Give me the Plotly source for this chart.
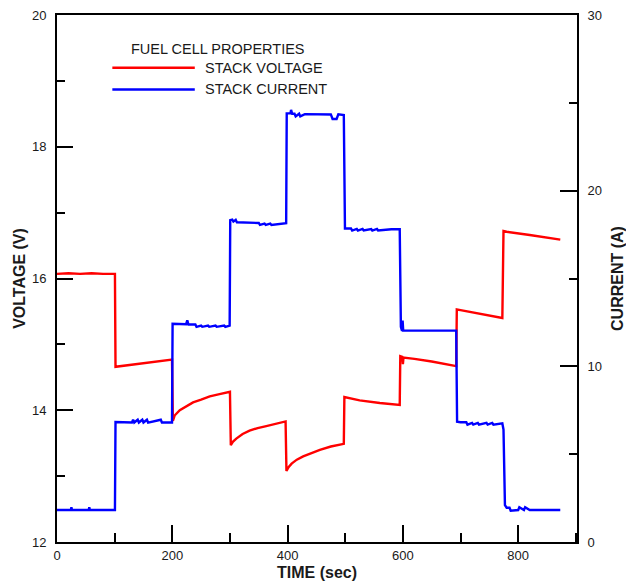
import plotly.graph_objects as go

# Stack voltage (V) against time (s)
voltage_time = [0, 20, 40, 60, 80, 100.5,
                101.5, 120, 150, 175, 199.5,
                201, 204, 213, 225, 236, 250, 265, 280, 298, 300,
                301.5, 305, 311, 322, 334, 348, 363, 380, 396.5,
                398, 402, 407, 416, 427, 440, 456, 475, 497.5,
                498.5, 525, 560, 594.5,
                595.5, 599, 600, 601, 620, 650, 692.5,
                693.5, 700, 730, 772.5,
                774.5, 780, 820, 873]
voltage = [16.07, 16.08, 16.07, 16.08, 16.07, 16.07,
           14.66, 14.68, 14.71, 14.74, 14.77,
           13.84, 13.92, 14.00, 14.06, 14.12, 14.16, 14.21, 14.24, 14.27, 14.28,
           13.47, 13.52, 13.57, 13.64, 13.69, 13.73, 13.76, 13.80, 13.83,
           13.08, 13.14, 13.19, 13.25, 13.30, 13.35, 13.40, 13.45, 13.49,
           14.20, 14.15, 14.11, 14.08,
           14.82, 14.81, 14.70, 14.80, 14.78, 14.74, 14.67,
           15.53, 15.52, 15.47, 15.40,
           16.72, 16.71, 16.66, 16.59]

# Stack current (A) against time (s)
current_time = [0, 24, 25, 26, 55, 56, 57, 100.5,
                101.5, 130, 132, 134, 140, 142, 148, 150, 156, 158, 180, 182, 199.5,
                200.5, 224, 226, 228, 240, 242, 250, 252, 262, 264, 275, 277, 290, 292, 299.5,
                300.5, 304, 306, 310, 312, 340, 350, 352, 360, 362, 370, 372, 397.5,
                398.5, 405, 406, 408, 412, 414, 420, 422, 430, 470, 475, 478, 485, 488, 497.5,
                499.5, 510, 512, 520, 522, 530, 532, 545, 547, 555, 557, 580, 594.5,
                596.5, 598.5, 599.5, 600.5, 602, 692.5,
                694, 700, 710, 712, 720, 722, 730, 732, 745, 747, 755, 757, 772.5,
                774.5, 777, 780, 785, 787, 800, 802, 810, 812, 820, 873]
current = [1.82, 1.82, 1.98, 1.82, 1.82, 1.98, 1.82, 1.82,
           6.83, 6.80, 6.96, 6.80, 6.96, 6.80, 6.96, 6.80, 6.96, 6.80, 6.96, 6.80, 6.80,
           12.42, 12.40, 12.62, 12.38, 12.38, 12.25, 12.32, 12.25, 12.32, 12.25, 12.32, 12.25, 12.32, 12.25, 12.32,
           18.32, 18.35, 18.24, 18.34, 18.20, 18.16, 18.16, 18.05, 18.13, 18.05, 18.13, 18.05, 18.15,
           24.40, 24.40, 24.60, 24.38, 24.38, 24.23, 24.38, 24.23, 24.36, 24.34, 24.34, 24.08, 24.08, 24.34, 24.30,
           17.85, 17.85, 17.73, 17.82, 17.73, 17.82, 17.73, 17.82, 17.73, 17.82, 17.73, 17.80, 17.80,
           12.25, 12.02, 12.60, 12.03, 12.03, 12.03,
           6.85, 6.82, 6.82, 6.68, 6.78, 6.68, 6.78, 6.68, 6.78, 6.68, 6.78, 6.68, 6.75,
           6.40, 2.10, 1.95, 1.95, 1.78, 1.82, 1.98, 1.82, 1.98, 1.82, 1.82]

x_ticks = [0, 200, 400, 600, 800]
voltage_ticks = [12, 14, 16, 18, 20]
current_ticks = [0, 10, 20, 30]

legend_title = "FUEL CELL PROPERTIES"
series_names = ["STACK VOLTAGE", "STACK CURRENT"]
series_colors = ["#ff0000", "#0000ff"]

FONT = "Arial, 'Liberation Sans', sans-serif"
INK = "#1a1a1a"

fig = go.Figure()
fig.add_trace(go.Scatter(x=voltage_time, y=voltage, mode="lines", name=series_names[0],
                         line=dict(color=series_colors[0], width=2.4), yaxis="y"))
fig.add_trace(go.Scatter(x=current_time, y=current, mode="lines", name=series_names[1],
                         line=dict(color=series_colors[1], width=2.4), yaxis="y2"))

axis_common = dict(showline=True, linecolor="black", linewidth=2, showgrid=False, zeroline=False,
                   ticks="inside", tickcolor="black", tickwidth=2,
                   tickfont=dict(family=FONT, size=13, color=INK))

fig.update_layout(
    width=626, height=583,
    margin=dict(l=57, r=49, t=15, b=41),
    paper_bgcolor="white", plot_bgcolor="white",
    showlegend=False,
    font=dict(family=FONT, color=INK),
    xaxis=dict(**axis_common, range=[0, 902], tickvals=x_ticks, ticklen=17, mirror=True,
               minor=dict(dtick=100, tick0=0, ticks="inside", ticklen=9, tickwidth=2, tickcolor="black"),
               title=dict(text="<b>TIME (sec)</b>", font=dict(family=FONT, size=16, color=INK), standoff=5),
               automargin=False),
    yaxis=dict(**axis_common, range=[12, 20], tickvals=voltage_ticks, ticklen=16,
               ticklabelstandoff=6,
               minor=dict(dtick=1, tick0=12, ticks="inside", ticklen=8, tickwidth=2, tickcolor="black"),
               title=dict(text="<b>VOLTAGE (V)</b>", font=dict(family=FONT, size=16, color=INK), standoff=2),
               automargin=False),
    yaxis2=dict(**axis_common, range=[0, 30], tickvals=current_ticks, ticklen=17,
                ticklabelstandoff=6, overlaying="y", side="right",
                minor=dict(dtick=5, tick0=0, ticks="inside", ticklen=8, tickwidth=2, tickcolor="black"),
                title=dict(text="<b>CURRENT (A)</b>", font=dict(family=FONT, size=16, color=INK), standoff=12),
                automargin=False),
)

# Legend block drawn in data coordinates of the time / voltage axes
legend_rows_y = [19.2, 18.87]
for name, color, ly in zip(series_names, series_colors, legend_rows_y):
    fig.add_shape(type="line", xref="x", yref="y", x0=96, x1=239, y0=ly, y1=ly,
                  line=dict(color=color, width=2.5))
    fig.add_annotation(x=253, y=ly, xref="x", yref="y", text=name, showarrow=False,
                       xanchor="left", yanchor="middle",
                       font=dict(family=FONT, size=14.5, color=INK))
fig.add_annotation(x=280, y=19.49, xref="x", yref="y", text=legend_title, showarrow=False,
                   xanchor="center", yanchor="middle",
                   font=dict(family=FONT, size=14.5, color=INK))

fig.write_html("out.html")
